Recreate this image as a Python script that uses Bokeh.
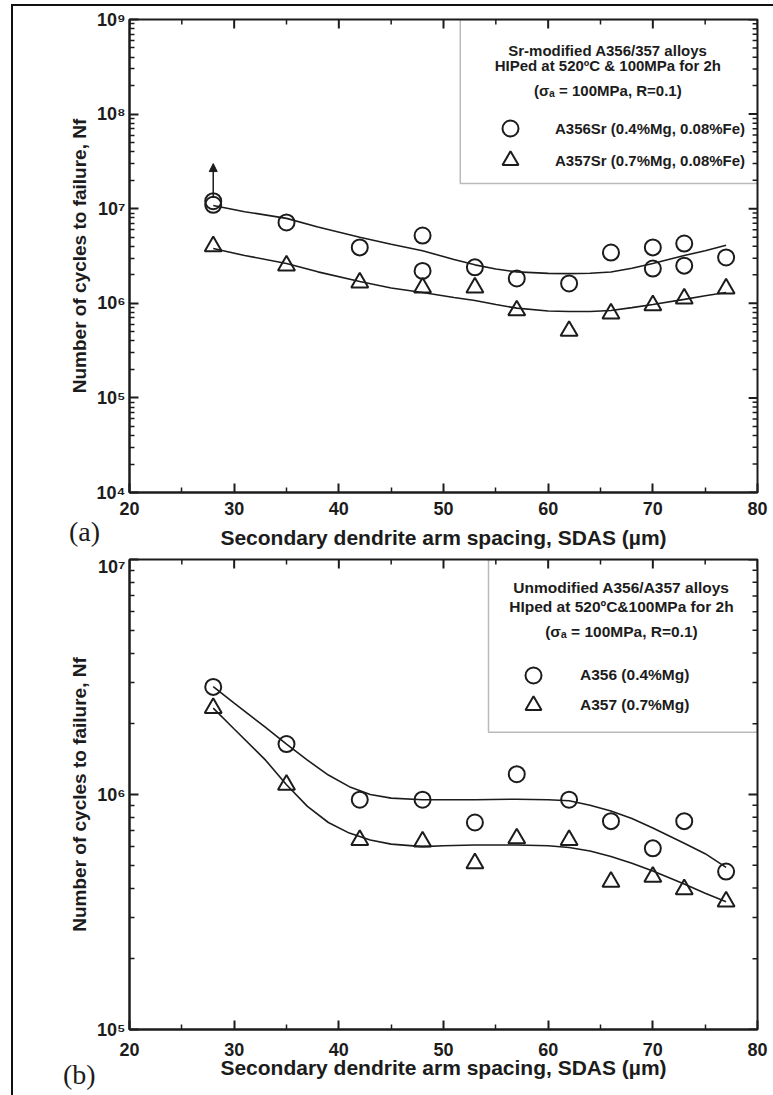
from bokeh.plotting import figure
from bokeh.models import (Range1d, FixedTicker, BoxAnnotation, Div,
                          Label, Legend, LegendItem, Arrow, NormalHead)
from bokeh.layouts import column
from bokeh.embed import file_html
from bokeh.resources import INLINE

# ---------------- data : panel (a) Sr-modified ----------------
sdas_a356sr = [28, 28, 35, 42, 48, 48, 53, 57, 62, 66, 70, 70, 73, 73, 77]
nf_a356sr = [1.2e7, 1.1e7, 7.15e6, 3.9e6, 5.2e6, 2.2e6, 2.4e6, 1.83e6, 1.62e6,
             3.44e6, 3.9e6, 2.33e6, 4.28e6, 2.5e6, 3.05e6]
sdas_a357sr = [28, 35, 42, 48, 53, 57, 62, 66, 70, 73, 77]
nf_a357sr = [4.0e6, 2.5e6, 1.66e6, 1.47e6, 1.47e6, 8.4e5, 5.1e5, 7.8e5, 9.5e5, 1.12e6, 1.43e6]
fit_sdas_a = [28, 31, 35, 38, 42, 45, 48, 51, 53, 55, 57, 60, 62, 64, 66, 68, 70, 73, 75, 77]
fit_a356sr = [1.08e7, 9.3e6, 7.9e6, 6.4e6, 5.0e6, 4.2e6, 3.6e6, 2.9e6, 2.55e6, 2.3e6,
              2.15e6, 2.07e6, 2.06e6, 2.08e6, 2.14e6, 2.35e6, 2.64e6, 3.2e6, 3.6e6, 4.1e6]
fit_a357sr = [3.8e6, 3.2e6, 2.64e6, 2.15e6, 1.7e6, 1.45e6, 1.3e6, 1.15e6, 1.07e6, 9.7e5,
              8.9e5, 8.3e5, 8.2e5, 8.2e5, 8.4e5, 9.0e5, 9.7e5, 1.1e6, 1.2e6, 1.3e6]
runout_sdas = [28]
runout_from = [1.3e7]
runout_to = [3.0e7]

# ---------------- data : panel (b) unmodified ----------------
sdas_b = [28, 35, 42, 48, 53, 57, 62, 66, 70, 73, 77]
nf_a356 = [2.87e6, 1.64e6, 9.5e5, 9.5e5, 7.6e5, 1.22e6, 9.5e5, 7.7e5, 5.9e5, 7.7e5, 4.7e5]
nf_a357 = [2.33e6, 1.1e6, 6.4e5, 6.3e5, 5.1e5, 6.5e5, 6.4e5, 4.25e5, 4.46e5, 3.95e5, 3.5e5]
fit_sdas_b = [28, 30, 33, 35, 37, 39, 41, 43, 45, 48, 50, 53, 57, 60, 62, 64, 66, 68, 70,
              73, 75, 77]
fit_a356 = [2.88e6, 2.45e6, 1.93e6, 1.64e6, 1.4e6, 1.21e6, 1.08e6, 1.0e6, 9.65e5, 9.5e5,
            9.5e5, 9.5e5, 9.55e5, 9.5e5, 9.4e5, 9.0e5, 8.5e5, 7.9e5, 7.2e5, 6.2e5,
            5.6e5, 4.9e5]
fit_a357 = [2.33e6, 1.9e6, 1.4e6, 1.1e6, 8.9e5, 7.6e5, 6.85e5, 6.4e5, 6.15e5, 6.0e5,
            6.05e5, 6.1e5, 6.1e5, 6.05e5, 5.95e5, 5.75e5, 5.45e5, 5.1e5, 4.73e5, 4.16e5,
            3.8e5, 3.5e5]

x_ticks = [20, 30, 40, 50, 60, 70, 80]
x_minor = [25, 35, 45, 55, 65, 75]
sup = {4: "⁴", 5: "⁵", 6: "⁶", 7: "⁷", 8: "⁸", 9: "⁹"}

FONT = "Liberation Sans"
SERIF = "Liberation Serif"
INK = "#1c1c1c"
XLABEL = "Secondary dendrite arm spacing, SDAS (µm)"
YLABEL = "Number of cycles to failure, Nf"
MAJ_LEN, MIN_LEN = 9, 5


def make_fig(w, h, lo, hi, bl, br, bt, bb, tick_standoff, label_standoff):
    p = figure(width=w, height=h, x_range=Range1d(20, 80),
               y_range=Range1d(10 ** lo, 10 ** hi), y_axis_type="log",
               output_backend="svg", toolbar_location=None,
               min_border_left=bl, min_border_right=br,
               min_border_top=bt, min_border_bottom=bb)
    p.outline_line_color = INK
    p.outline_line_width = 2
    p.grid.visible = False
    ymaj = [10.0 ** e for e in range(lo, hi + 1)]
    ymin = [m * 10.0 ** e for e in range(lo, hi) for m in range(2, 10)]
    xax = p.below[0]
    yax = p.left[0]
    xax.ticker = FixedTicker(ticks=x_ticks, minor_ticks=x_minor)
    yax.ticker = FixedTicker(ticks=ymaj, minor_ticks=ymin)
    for ax in (xax, yax):
        ax.axis_line_width = 2
        ax.axis_line_color = INK
        ax.major_tick_in = MAJ_LEN
        ax.major_tick_out = 0
        ax.minor_tick_in = MIN_LEN
        ax.minor_tick_out = 0
        ax.major_tick_line_width = 2
        ax.minor_tick_line_width = 1.5
        ax.major_tick_line_color = INK
        ax.minor_tick_line_color = INK
        ax.major_label_text_font = FONT
        ax.major_label_text_font_style = "bold"
        ax.major_label_text_font_size = "18px"
        ax.major_label_text_color = INK
        ax.axis_label_text_font = FONT
        ax.axis_label_text_font_style = "bold"
        ax.axis_label_text_color = INK
    xax.axis_label_text_font_size = "21px"
    yax.axis_label_text_font_size = "19px"
    yax.axis_label_standoff = 4
    xax.axis_label_standoff = label_standoff
    yax.major_label_overrides = {10.0 ** e: "10" + sup[e] for e in range(lo, hi + 1)}
    yax.major_label_standoff = 4
    xax.major_label_standoff = tick_standoff
    xax.axis_label = XLABEL
    yax.axis_label = YLABEL

    # mirrored inward ticks on the top and right edges
    fw = w - bl - br
    fh = h - bt - bb
    ppx = fw / 60.0
    ppd = fh / float(hi - lo)
    for xs, ln, lw in ((x_ticks, MAJ_LEN, 2), (x_minor, MIN_LEN, 1.5)):
        p.segment(x0=xs, y0=[10.0 ** hi] * len(xs), x1=xs,
                  y1=[10.0 ** (hi - ln / ppd)] * len(xs), line_color=INK, line_width=lw)
    for ys, ln, lw in ((ymaj, MAJ_LEN, 2), (ymin, MIN_LEN, 1.5)):
        p.segment(x0=[80] * len(ys), y0=ys, x1=[80 - ln / ppx] * len(ys), y1=ys,
                  line_color=INK, line_width=lw)
    return p


def add_series(p, xs, ys, fx, fy, xs2, ys2, fy2):
    p.line(fx, fy, line_color=INK, line_width=1.6)
    p.line(fx, fy2, line_color=INK, line_width=1.6)
    rc = p.scatter(xs, ys, marker="circle", size=16, fill_alpha=0,
                   line_color=INK, line_width=2)
    rt = p.scatter(xs2, ys2, marker="triangle", size=17, fill_alpha=0,
                   line_color=INK, line_width=2)
    return rc, rt


def add_legend_row(p, label, r, loc, standoff, fs):
    lg = Legend(items=[LegendItem(label=label, renderers=[r])], location=loc,
                glyph_width=40, glyph_height=40, label_standoff=standoff,
                padding=0, margin=0, spacing=0, border_line_color=None,
                background_fill_alpha=0, label_text_font=FONT,
                label_text_font_style="bold", label_text_font_size=fs,
                label_text_color=INK)
    p.add_layout(lg)


def add_header(p, lines, xc, ys, fs):
    for t, y in zip(lines, ys):
        p.add_layout(Label(x=xc, y=y, text=t, text_align="center", text_baseline="middle",
                           text_font=FONT, text_font_style="bold", text_font_size=fs,
                           text_color=INK))


def panel_tag(text, left, top):
    return Div(text=text, width=40, height=32,
               styles={"position": "absolute", "left": f"{left}px", "top": f"{top}px",
                       "font-family": SERIF, "font-size": "28px", "line-height": "32px",
                       "color": INK, "margin": "0", "padding": "0"})


# ---------------- panel (a) ----------------
pa = make_fig(760, 550, 4, 9, 113, 9, 13, 64, 9, 8)
rc, rt = add_series(pa, sdas_a356sr, nf_a356sr, fit_sdas_a, fit_a356sr,
                    sdas_a357sr, nf_a357sr, fit_a357sr)
for xr, y0, y1 in zip(runout_sdas, runout_from, runout_to):
    pa.add_layout(Arrow(end=NormalHead(size=8, fill_color=INK, line_color=INK),
                        x_start=xr, y_start=y0, x_end=xr, y_end=y1,
                        line_color=INK, line_width=1.5))
pa.add_layout(BoxAnnotation(left=51.6, bottom=1.85e7, fill_alpha=0,
                            line_color=INK, line_width=1.5))
add_header(pa, ["Sr-modified A356/357 alloys", "HIPed at 520ºC & 100MPa for 2h",
                "(σₐ = 100MPa, R=0.1)"], 65.7, [4.7e8, 3.27e8, 1.77e8], "15px")
add_legend_row(pa, "A356Sr (0.4%Mg, 0.08%Fe)", rc, (361, 344), 25, "15px")
add_legend_row(pa, "A357Sr (0.7%Mg, 0.08%Fe)", rt, (361, 312), 25, "15px")

# ---------------- panel (b) ----------------
pb = make_fig(760, 539, 5, 7, 116, 16, 3, 66, 13, -3)
rc2, rt2 = add_series(pb, sdas_b, nf_a356, fit_sdas_b, fit_a356,
                      sdas_b, nf_a357, fit_a357)
pb.add_layout(BoxAnnotation(left=54.3, bottom=1.84e6, fill_alpha=0,
                            line_color=INK, line_width=1.5))
add_header(pb, ["Unmodified A356/A357 alloys", "HIped at 520ºC&100MPa for 2h",
                "(σₐ = 100MPa, R=0.1)"], 67.0, [7.57e6, 6.32e6, 4.93e6], "15.5px")
add_legend_row(pb, "A356 (0.4%Mg)", rc2, (384, 334), 27, "15.5px")
add_legend_row(pb, "A357 (0.7%Mg)", rt2, (384, 304), 27, "15.5px")

tag_a = panel_tag("(a)", 56, 510)
tag_b = panel_tag("(b)", 50, 1053)

layout = column(pa, pb, tag_a, tag_b, spacing=0,
                styles={"position": "relative",
                        "border-left": "2px solid #111", "border-top": "2px solid #111",
                        "margin-left": "11px", "margin-top": "4px"})

open("out.html", "w").write(file_html(layout, INLINE))
